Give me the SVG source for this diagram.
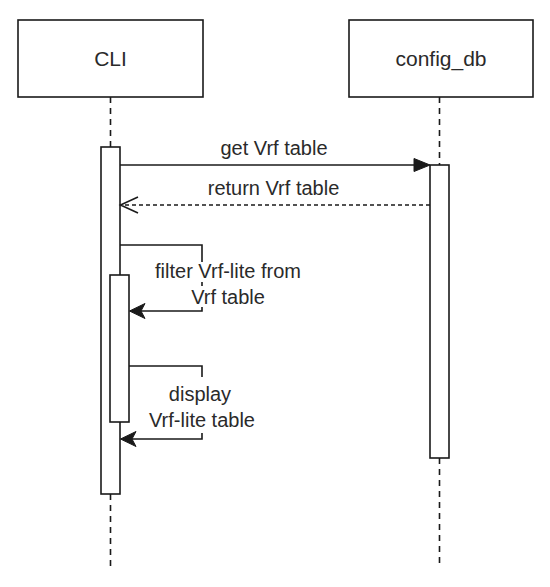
<svg xmlns="http://www.w3.org/2000/svg" width="550" height="587" viewBox="0 0 550 587">
<style>
.box{fill:#fff;stroke:#1a1a1a;stroke-width:1.6}
.life{fill:none;stroke:#1a1a1a;stroke-width:1.6;stroke-dasharray:6 5}
.msg{fill:none;stroke:#1a1a1a;stroke-width:1.6}
.ret{fill:none;stroke:#1a1a1a;stroke-width:1.6;stroke-dasharray:4 3}
.head{fill:#1a1a1a;stroke:#1a1a1a;stroke-width:1}
.open{fill:none;stroke:#1a1a1a;stroke-width:1.6}
.node{font-family:"Liberation Sans",Arial,sans-serif;font-size:21px;fill:#2a2a2a;text-anchor:middle}
.lbl{font-family:"Liberation Sans",Arial,sans-serif;font-size:20px;fill:#2a2a2a;text-anchor:middle}
.bg{fill:#fff}
</style>
<g id="lifelines">
<line class="life" x1="110.5" y1="97" x2="110.5" y2="147"/>
<line class="life" x1="110.5" y1="494" x2="110.5" y2="568"/>
<line class="life" x1="439.5" y1="97" x2="439.5" y2="165"/>
<line class="life" x1="439.5" y1="458" x2="439.5" y2="568"/>
</g>
<g id="node-cli">
<rect class="box" x="18" y="20" width="185" height="77"/>
<text class="node" x="110.5" y="66">CLI</text>
</g>
<g id="node-config_db">
<rect class="box" x="349" y="20" width="184" height="77"/>
<text class="node" x="441" y="66">config_db</text>
</g>
<g id="activation-cli-outer">
<rect class="box" x="101" y="147" width="19" height="347"/>
</g>
<g id="activation-config_db">
<rect class="box" x="430" y="165" width="19" height="293"/>
</g>
<g id="activation-cli-inner">
<rect class="box" x="110" y="275" width="19" height="147"/>
</g>
<g id="connectors">
<line class="msg" x1="120" y1="165" x2="416" y2="165"/>
<path class="head" d="M430,165 L414,158.5 L414,171.5 Z"/>
<text class="lbl" x="274" y="155">get Vrf table</text>
<line class="ret" x1="430" y1="205" x2="121" y2="205"/>
<path class="open" d="M138,197 L120.5,205 L138,213"/>
<text class="lbl" x="273.5" y="195">return Vrf table</text>
<path class="msg" d="M120,245 H202 V311 H140"/>
<path class="head" d="M129.5,311 L145,303.5 L141,311 L145,318.5 Z"/>
<rect class="bg" x="150" y="262" width="156" height="20"/>
<rect class="bg" x="185" y="286" width="86" height="21"/>
<text class="lbl" x="228" y="278">filter Vrf-lite from</text>
<text class="lbl" x="228" y="304">Vrf table</text>
<path class="msg" d="M129,366 H202 V439 H131"/>
<path class="head" d="M120.5,439 L136,431.5 L132,439 L136,446.5 Z"/>
<rect class="bg" x="140" y="377" width="124" height="56"/>
<text class="lbl" x="200" y="401">display</text>
<text class="lbl" x="202" y="427">Vrf-lite table</text>
</g>
</svg>
